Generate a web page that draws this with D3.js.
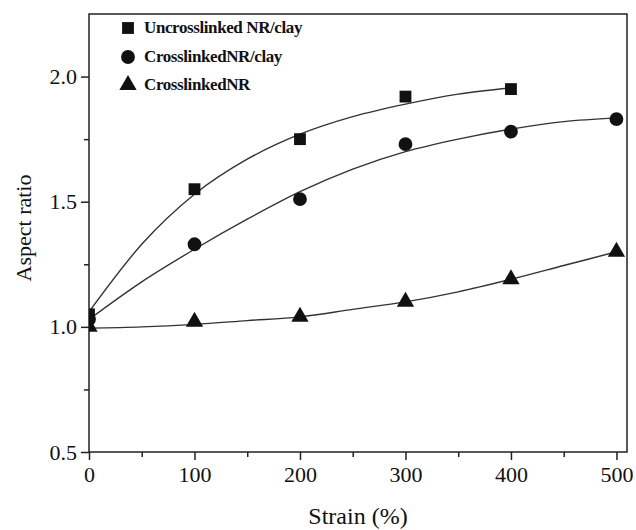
<!DOCTYPE html>
<html><head><meta charset="utf-8">
<script src="https://cdn.jsdelivr.net/npm/d3@7"></script>
<style>body{margin:0;background:#fff}</style>
</head><body>
<script>
// Measured data points
const strain = [0, 100, 200, 300, 400, 500];
const uncrossNRclay = [1.05, 1.55, 1.75, 1.92, 1.95];
const crossNRclay = [1.03, 1.33, 1.51, 1.73, 1.78, 1.83];
const crossNR = [1.00, 1.02, 1.04, 1.10, 1.19, 1.30];
// Fitted curves
const fitStrain = [0, 50, 100, 150, 200, 250, 300, 350, 400, 450, 500];
const fitUncross = [1.06, 1.33, 1.53, 1.67, 1.77, 1.84, 1.89, 1.93, 1.955];
const fitCrossClay = [1.03, 1.18, 1.31, 1.43, 1.54, 1.63, 1.70, 1.75, 1.79, 1.82, 1.835];
const fitCrossNR = [0.995, 1.0, 1.01, 1.025, 1.04, 1.07, 1.10, 1.14, 1.19, 1.245, 1.30];
const xTicks = [0, 100, 200, 300, 400, 500];
const yTicks = [0.5, 1.0, 1.5, 2.0];
const legendLabels = ["Uncrosslinked NR/clay", "CrosslinkedNR/clay", "CrosslinkedNR"];

const W = 636, H = 530;
const L = 89, R = 627, T = 14, B = 452;
const svg = d3.select("body").append("svg").attr("width", W).attr("height", H);
const x = d3.scaleLinear().domain([0, 510]).range([L, R]);
const y = d3.scaleLinear().domain([0.5, 2.25]).range([B, T]);

svg.append("defs").append("clipPath").attr("id", "clip")
  .append("rect").attr("x", L).attr("y", T).attr("width", R - L).attr("height", B - T);

const ink = "#111";
const font = "'Liberation Serif','Times New Roman',serif";

// frame
svg.append("rect").attr("x", L).attr("y", T).attr("width", R - L).attr("height", B - T)
  .attr("fill", "none").attr("stroke", "#222").attr("stroke-width", 1.5);

// axes
svg.append("g").attr("transform", `translate(0,${B})`)
  .call(d3.axisBottom(x).tickValues(xTicks).tickSize(8).tickPadding(6).tickFormat(d3.format("d")));
svg.append("g").attr("transform", `translate(0,${B})`)
  .call(d3.axisBottom(x).tickValues([50,150,250,350,450]).tickSize(5).tickFormat(""));
svg.append("g").attr("transform", `translate(${L},0)`)
  .call(d3.axisLeft(y).tickValues(yTicks).tickSize(8).tickPadding(4).tickFormat(d3.format(".1f")));
svg.append("g").attr("transform", `translate(${L},0)`)
  .call(d3.axisLeft(y).tickValues([0.75,1.25,1.75]).tickSize(5).tickFormat(""));
svg.selectAll(".domain").remove();
svg.selectAll(".tick line").attr("stroke", "#222").attr("stroke-width", 1.5);
svg.selectAll(".tick text").attr("fill", ink).style("font-family", font).style("font-size", "22px");

svg.append("text").attr("x", (L + R) / 2).attr("y", 524).attr("text-anchor", "middle")
  .style("font-family", font).style("font-size", "24px").attr("fill", ink).text("Strain (%)");
svg.append("text").attr("transform", `translate(31,228) rotate(-90)`).attr("text-anchor", "middle")
  .style("font-family", font).style("font-size", "22px").attr("fill", ink).text("Aspect ratio");

const plot = svg.append("g").attr("clip-path", "url(#clip)");
const line = d3.line().x(d => x(d[0])).y(d => y(d[1])).curve(d3.curveMonotoneX);
[fitUncross, fitCrossClay, fitCrossNR].forEach(f => {
  plot.append("path").datum(f.map((v, i) => [fitStrain[i], v]))
    .attr("d", line).attr("fill", "none").attr("stroke", "#333").attr("stroke-width", 1.4);
});

const sym = [d3.symbol().type(d3.symbolSquare).size(140),
             d3.symbol().type(d3.symbolCircle).size(150),
             d3.symbol().type(d3.symbolTriangle).size(130)];
[uncrossNRclay, crossNRclay, crossNR].forEach((s, k) => {
  plot.selectAll(null).data(s.map((v, i) => [strain[i], v])).enter().append("path")
    .attr("d", sym[k]).attr("transform", d => `translate(${x(d[0])},${y(d[1])})`).attr("fill", ink);
});

// legend
const ly = [28, 57, 85];
legendLabels.forEach((t, i) => {
  svg.append("path").attr("d", sym[i]).attr("transform", `translate(128,${ly[i]})`).attr("fill", ink);
  svg.append("text").attr("x", 144).attr("y", ly[i] + 5).style("font-family", font)
    .style("font-size", "17px").style("font-weight", "bold").style("letter-spacing", "-0.4px")
    .attr("fill", ink).text(t);
});
</script>
</body></html>
